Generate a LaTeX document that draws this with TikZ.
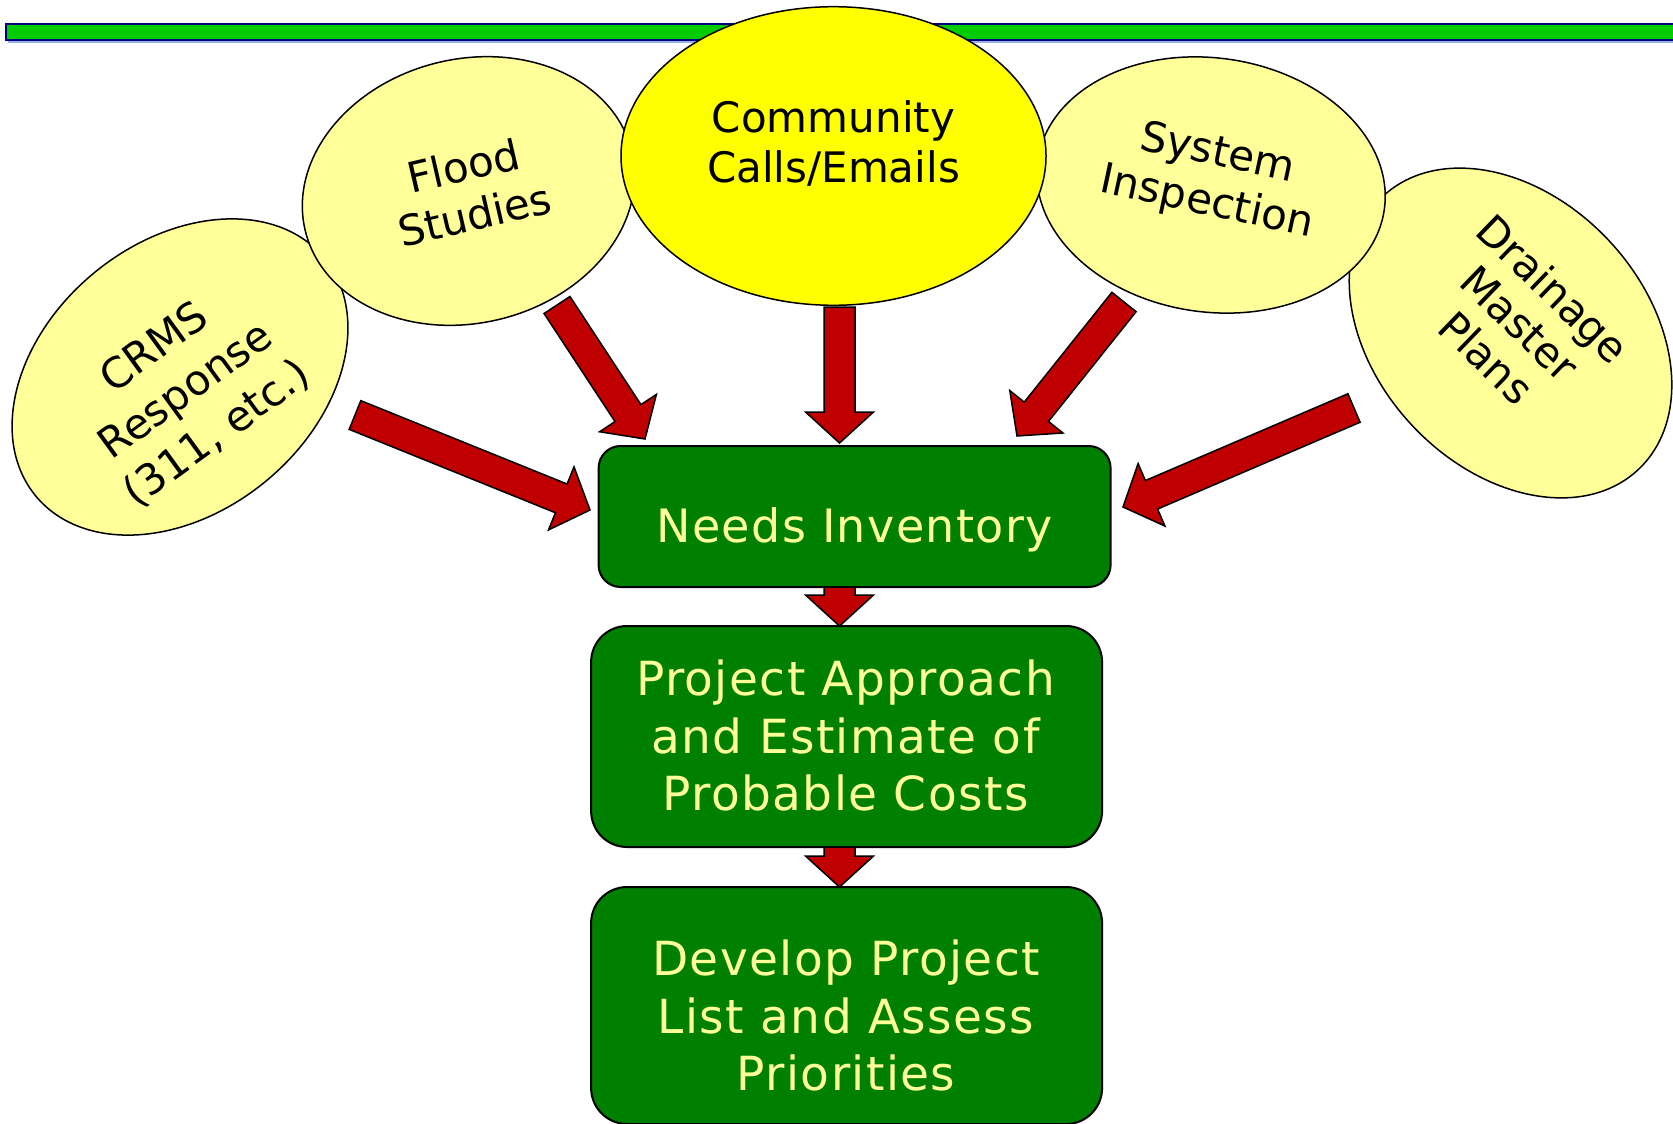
\documentclass[tikz,border=0pt]{standalone}
\usepackage{fontspec}
\setmainfont{DejaVu Sans}
\newfontfamily\boxfont[LetterSpace=3]{DejaVu Sans}
\usepackage{tikz}
\usetikzlibrary{shapes.geometric,calc,positioning}
\definecolor{srcfill}{HTML}{FFFF99}
\definecolor{hotfill}{HTML}{FFFF00}
\definecolor{stepgreen}{HTML}{008000}
\definecolor{steptext}{HTML}{FFFF99}
\definecolor{arrowred}{HTML}{C00000}
\definecolor{bargreen}{HTML}{00CC00}
\definecolor{barnavy}{HTML}{000080}
\definecolor{barshadow}{HTML}{99B3E6}
\tikzstyle{source} = [draw, ellipse, line width=0.75pt, fill=srcfill, inner sep=0pt]
\tikzstyle{srctext} = [align=center, inner sep=0pt,
    font=\fontsize{21pt}{25pt}\selectfont]
\tikzstyle{stepbox} = [draw, line width=1pt, rectangle, fill=stepgreen,
    minimum width=255.5pt, outer sep=0pt]
\tikzstyle{boxtext} = [align=center, inner sep=0pt, text=steptext,
    font=\boxfont\fontsize{23.5pt}{28.75pt}\selectfont]
\tikzstyle{blockarrow} = [draw, line width=0.75pt, fill=arrowred]
\newcommand{\bahalfshaft}{7.75pt}
\newcommand{\bahalfhead}{17pt}
\newcommand{\baheadlen}{15.5pt}
% block arrow from #1 (tail) to #2 (tip)
\newcommand{\blockarrow}[2]{%
  \coordinate (ba-base) at ($(#2)!\baheadlen!(#1)$);
  \draw[blockarrow] ($(#1)!\bahalfshaft!90:(#2)$) -- ($(ba-base)!\bahalfshaft!-90:(#1)$)
    -- ($(ba-base)!\bahalfhead!-90:(#1)$) -- (#2) -- ($(ba-base)!\bahalfhead!90:(#1)$)
    -- ($(ba-base)!\bahalfshaft!90:(#1)$) -- ($(#1)!\bahalfshaft!-90:(#2)$) -- cycle;}
\begin{document}
\begin{tikzpicture}[x=0.5pt, y=-0.5pt]
          \useasboundingbox (0,0) rectangle (1673,1123);

          % Place the sources
          \node [source, minimum width=187pt, minimum height=135pt, rotate=39.5] (crms) at (180,377) {};
          \node [source, minimum width=187pt, minimum height=135pt, rotate=-47] (drainage) at (1510.5,333) {};
          \node [source, minimum width=168pt, minimum height=132pt, rotate=13.8] (flood) at (468.5,191) {};
          \node [source, minimum width=175pt, minimum height=127pt, rotate=-8] (system) at (1211,185) {};
          \fill [barshadow] (8,41) rectangle (1690,43.5);
          \draw [barnavy, line width=1.2pt, fill=bargreen] (6,24) rectangle (1690,40);
          \node [source, fill=hotfill, minimum width=212.5pt, minimum height=149.3pt] (community) at (833.5,156) {};

          \node [srctext, rotate=36, font=\fontsize{21pt}{26.5pt}\selectfont] (crmstext) at ($(crms)+(6,14)$) {CRMS\\Response\\(311, etc.)};
          \node [srctext, rotate=13] (floodtext) at ($(flood)+(0.5,-1)$) {Flood\\Studies};
          \node [srctext] (communitytext) at ($(community)+(0,-13)$) {Community\\Calls/Emails};
          \node [srctext, rotate=-12] (systemtext) at ($(system)+(1,-6)$) {System\\Inspection};
          \node [srctext, rotate=-44, font=\fontsize{21pt}{24pt}\selectfont] (drainagetext) at ($(drainage)+(9.5,-10)$) {Drainage\\Master\\Plans};

          % Place the steps
          \node [stepbox, minimum width=256pt, minimum height=70.5pt, rounded corners=11pt] (needs) at (854.6,516.5) {};
          \node [stepbox, minimum height=110.5pt, rounded corners=18pt, below=19.5pt of needs, xshift=-4pt] (approach) {};
          \node [stepbox, minimum height=118.5pt, rounded corners=18pt, below=20pt of approach] (develop) {};
          \node [boxtext, font=\boxfont\fontsize{23pt}{28.75pt}\selectfont] (needstext) at ($(needs)+(0,13.5)$) {Needs Inventory};
          \node [boxtext] (approachtext) at ($(approach)+(-1,-1)$) {Project Approach\\and Estimate of\\Probable Costs};
          \node [boxtext] (developtext) at ($(develop)+(-0.5,10)$) {Develop Project\\List and Assess\\Priorities};

          % Connections
          \coordinate (spine) at (839.5,0);
          \coordinate (crms-out) at (355,415);
          \coordinate (needs-in-w) at (590,510);
          \coordinate (flood-out) at (557,305);
          \coordinate (needs-in-nw) at (645,439);
          \coordinate (community-out) at (839.5,307);
          \coordinate (needs-in-n) at (839.5,443);
          \coordinate (system-out) at (1124,302);
          \coordinate (needs-in-ne) at (1017,436);
          \coordinate (drainage-out) at (1354,408);
          \coordinate (needs-in-e) at (1123,507);
          \coordinate (needs-out) at (needs.south -| spine);
          \coordinate (approach-in) at (approach.north -| spine);
          \coordinate (approach-out) at (approach.south -| spine);
          \coordinate (develop-in) at (develop.north -| spine);
          \blockarrow{crms-out}{needs-in-w}
          \blockarrow{flood-out}{needs-in-nw}
          \blockarrow{community-out}{needs-in-n}
          \blockarrow{system-out}{needs-in-ne}
          \blockarrow{drainage-out}{needs-in-e}
          \blockarrow{needs-out}{approach-in}
          \blockarrow{approach-out}{develop-in}
      \end{tikzpicture}
\end{document}
